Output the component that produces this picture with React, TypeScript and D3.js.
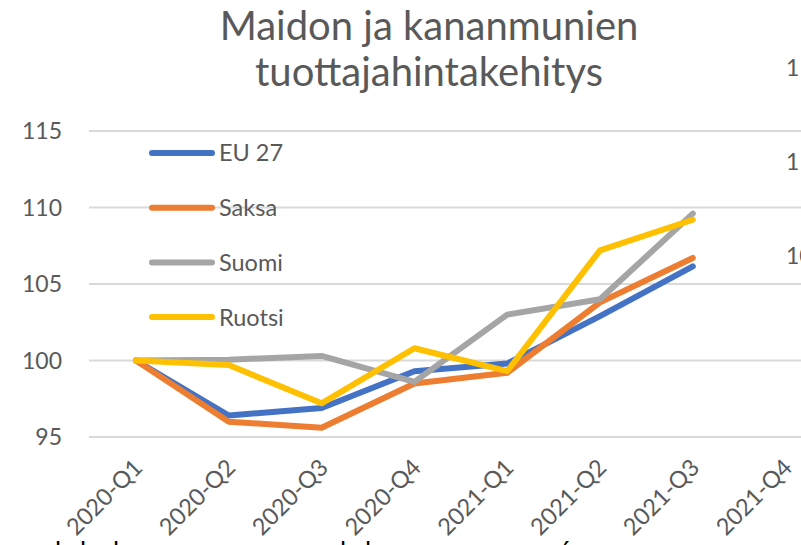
import React from "react";
import * as d3 from "d3";

const categories = ["2020-Q1", "2020-Q2", "2020-Q3", "2020-Q4", "2021-Q1", "2021-Q2", "2021-Q3", "2021-Q4"];
const eu27 = [100, 96.4, 96.9, 99.3, 99.8, 102.9, 106.15];
const saksa = [100, 96.0, 95.6, 98.5, 99.2, 103.8, 106.7];
const suomi = [100, 100.05, 100.3, 98.6, 103.0, 104.0, 109.6];
const ruotsi = [100, 99.7, 97.2, 100.8, 99.3, 107.2, 109.2];
const seriesNames = ["EU 27", "Saksa", "Suomi", "Ruotsi"];
const seriesColors = ["#4472C4", "#ED7D31", "#A5A5A5", "#FFC000"];
const yTicks = [95, 100, 105, 110, 115];
const titleLines = ["Maidon ja kananmunien", "tuottajahintakehitys"];
const sideLabels = ["115", "110", "105"];

const W = 801;
const H = 545;
const FONT = "Lato, 'Open Sans', sans-serif";

export default function App() {
  const x = d3.scalePoint<string>().domain(categories).range([136, 136 + 7 * 92.8]);
  const y = d3.scaleLinear().domain([95, 115]).range([437, 131]);
  const all = [eu27, saksa, suomi, ruotsi];
  const line = d3
    .line<number>()
    .x((_, i) => x(categories[i]) as number)
    .y((d) => y(d));

  return (
    <svg
      width={W}
      height={H}
      style={{ position: "absolute", left: 0, top: 0, background: "#fff" }}
      fontFamily={FONT}
    >
      <rect x={0} y={0} width={W} height={H} fill="#fff" />
      {titleLines.map((t, i) => (
        <text key={t} x={429} y={40 + i * 46} textAnchor="middle" fontSize={40} fill="#595959">
          {t}
        </text>
      ))}
      {yTicks.map((t) => (
        <g key={t}>
          <line x1={89} x2={W} y1={y(t)} y2={y(t)} stroke="#D9D9D9" strokeWidth={2} />
          <text x={62} y={y(t)} dy="0.36em" textAnchor="end" fontSize={23} fill="#595959">
            {t}
          </text>
        </g>
      ))}
      {categories.map((c) => (
        <text
          key={c}
          transform={`translate(${(x(c) as number) + 2},${463}) rotate(-45)`}
          textAnchor="end"
          dy="0.36em"
          fontSize={23.5}
          fill="#595959"
        >
          {c}
        </text>
      ))}
      {all.map((s, i) => (
        <path
          key={seriesNames[i]}
          d={line(s) as string}
          fill="none"
          stroke={seriesColors[i]}
          strokeWidth={6}
          strokeLinecap="round"
          strokeLinejoin="round"
        />
      ))}
      {seriesNames.map((n, i) => {
        const ly = 153 + i * 54.7;
        return (
          <g key={n}>
            <line x1={152} x2={212} y1={ly} y2={ly} stroke={seriesColors[i]} strokeWidth={6} strokeLinecap="round" />
            <text x={219} y={ly} dy="0.36em" fontSize={23.5} fill="#595959">
              {n}
            </text>
          </g>
        );
      })}
      {sideLabels.map((t, i) => (
        <text key={t} x={786} y={68 + i * 94} dy="0.36em" fontSize={23} fill="#595959">
          {t}
        </text>
      ))}
      {[55, 80, 113, 340, 365].map((px) => (
        <text key={px} x={px} y={561} fontSize={26} fill="#000">
          l
        </text>
      ))}
      <text x={560} y={561} fontSize={26} fill="#000">
        ´
      </text>
    </svg>
  );
}
